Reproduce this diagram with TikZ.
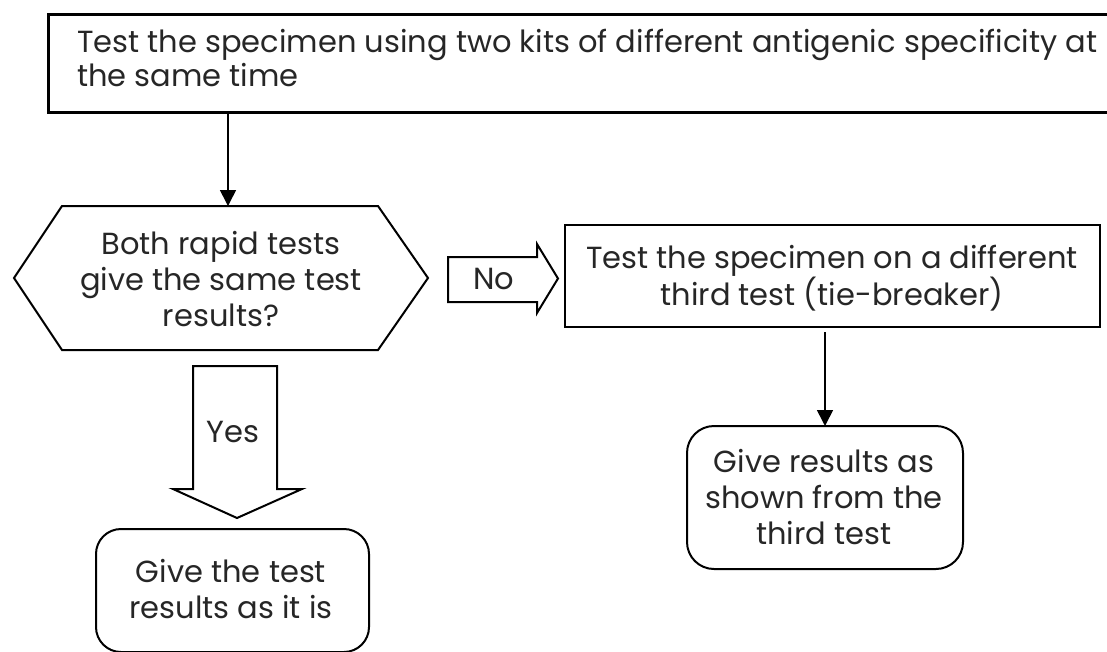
\documentclass[tikz,border=0pt]{standalone}
\usepackage{fontspec}
\setmainfont{Poppins}
\usetikzlibrary{arrows.meta,calc}
\begin{document}
\begin{tikzpicture}[x=1pt,y=-1pt,
  txt/.style={font=\fontsize{30.5}{36}\selectfont, align=center, inner sep=0pt, text=black!85},
  shapebox/.style={draw, line width=2pt, inner sep=0pt, outer sep=0pt},
  thinarrow/.style={-{Triangle[length=16pt,width=16pt]}, line width=1.6pt},
  blockarrow/.style={draw, line width=2pt, line join=miter, fill=white}]
\useasboundingbox (0,0) rectangle (1107,651);
\clip (0,0) rectangle (1107,651);
% top box
\node[shapebox, line width=3pt, minimum width=1072pt, minimum height=98pt, anchor=north west] (top) at (48,14) {};
\node[txt, align=left, anchor=north west, font=\fontsize{30.5}{33.5}\selectfont] (topT) at (77,29)
  {Test the specimen using two kits of different antigenic specificity at\\the same time};
% hexagon decision
\node[minimum width=414pt, minimum height=144pt, inner sep=0pt, outer sep=0pt] (hex) at (221,278) {};
\draw[line width=2pt, line join=miter] (hex.west) -- ([xshift=48pt]hex.north west) -- ([xshift=-50pt]hex.north east)
  -- (hex.east) -- ([xshift=-50pt]hex.south east) -- ([xshift=48pt]hex.south west) -- cycle;
\node[txt] (hexT) at (221,279) {Both rapid tests\\give the same test\\results?};
% third test box
\node[shapebox, minimum width=535pt, minimum height=102pt] (third) at (832.5,276) {};
\node[txt] (thirdT) at (832,278) {Test the specimen on a different\\third test (tie-breaker)};
% result boxes
\node[shapebox, rounded corners=27pt, minimum width=276pt, minimum height=143pt] (res3) at (825,497.5) {};
\node[txt] (res3T) at (824,497) {Give results as\\shown from the\\third test};
\node[shapebox, rounded corners=25pt, minimum width=273pt, minimum height=123pt] (res2) at (232.5,590.5) {};
\node[txt] (res2T) at (231,589) {Give the test\\results as it is};
% thin arrows
\draw[thinarrow] (top.south -| hex.north) ++(7,0) -- ([xshift=7pt]hex.north);
\draw[thinarrow, shorten <=5pt] (third.south -| res3.north) -- (res3.north);
% No block arrow
\draw[blockarrow] (448,257) coordinate (noA) -- (537,257) -- (537,244) -- (558,278.5) coordinate (noTip)
  -- (537,313) -- (537,302) -- (448,302) -- cycle;
\node[txt] (noT) at (494,279) {No};
% Yes block arrow
\draw[blockarrow] (193,366) coordinate (yesA) -- (277,366) -- (277,489) -- (302,489) -- (237,518) coordinate (yesTip)
  -- (173,489) -- (193,489) -- cycle;
\node[txt] (yesT) at (233,432) {Yes};
\end{tikzpicture}
\end{document}
